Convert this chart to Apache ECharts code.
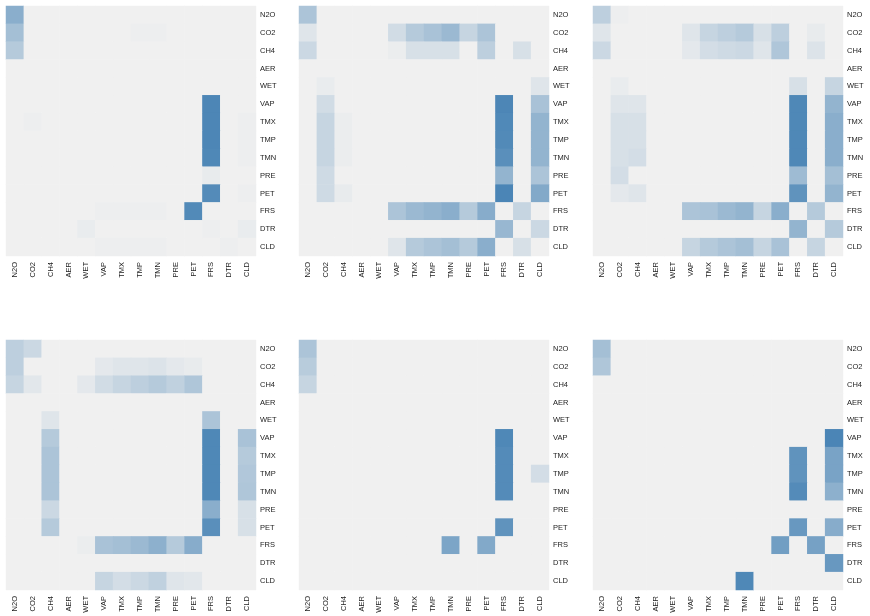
<!DOCTYPE html>
<html>
<head>
<meta charset="utf-8">
<script src="https://cdn.jsdelivr.net/npm/echarts@6/dist/echarts.min.js"></script>
<style>
  html, body { margin: 0; padding: 0; background: #fff; }
  #chart { width: 870px; height: 616px; }
</style>
</head>
<body>
<div id="chart"></div>
<script>
// variables, same order on both axes (y top to bottom)
const cats = ['N2O', 'CO2', 'CH4', 'AER', 'WET', 'VAP', 'TMX', 'TMP', 'TMN', 'PRE', 'PET', 'FRS', 'DTR', 'CLD'];

// non-zero cells per panel: [row, column, value]; all other cells are 0
const panel1 = [
  ['N2O', 'N2O', 0.6], ['CO2', 'N2O', 0.45], ['CH4', 'N2O', 0.35],
  ['CO2', 'TMP', 0.02], ['CO2', 'TMN', 0.02],
  ['VAP', 'FRS', 0.96],
  ['TMX', 'CO2', 0.02], ['TMX', 'FRS', 0.96], ['TMX', 'CLD', 0.02],
  ['TMP', 'FRS', 0.96], ['TMP', 'CLD', 0.02],
  ['TMN', 'FRS', 0.95], ['TMN', 'CLD', 0.02],
  ['PRE', 'FRS', 0.05],
  ['PET', 'FRS', 0.92], ['PET', 'CLD', 0.02],
  ['FRS', 'PET', 0.93], ['FRS', 'VAP', 0.02], ['FRS', 'TMX', 0.02], ['FRS', 'TMP', 0.02], ['FRS', 'TMN', 0.02],
  ['DTR', 'WET', 0.04], ['DTR', 'FRS', 0.02], ['DTR', 'CLD', 0.04],
  ['CLD', 'VAP', 0.02], ['CLD', 'TMX', 0.02], ['CLD', 'TMP', 0.02], ['CLD', 'TMN', 0.02], ['CLD', 'DTR', 0.02]
];
const panel2 = [
  ['N2O', 'N2O', 0.4],
  ['CO2', 'N2O', 0.1], ['CO2', 'VAP', 0.18], ['CO2', 'TMX', 0.35], ['CO2', 'TMP', 0.42], ['CO2', 'TMN', 0.5], ['CO2', 'PRE', 0.25], ['CO2', 'PET', 0.4],
  ['CH4', 'N2O', 0.22], ['CH4', 'VAP', 0.03], ['CH4', 'TMX', 0.15], ['CH4', 'TMP', 0.15], ['CH4', 'TMN', 0.15], ['CH4', 'PET', 0.3], ['CH4', 'DTR', 0.15],
  ['WET', 'CO2', 0.04], ['WET', 'CLD', 0.1],
  ['VAP', 'CO2', 0.18], ['VAP', 'FRS', 0.96], ['VAP', 'CLD', 0.42],
  ['TMX', 'CO2', 0.25], ['TMX', 'CH4', 0.03], ['TMX', 'FRS', 0.94], ['TMX', 'CLD', 0.55],
  ['TMP', 'CO2', 0.25], ['TMP', 'CH4', 0.03], ['TMP', 'FRS', 0.93], ['TMP', 'CLD', 0.55],
  ['TMN', 'CO2', 0.25], ['TMN', 'CH4', 0.03], ['TMN', 'FRS', 0.88], ['TMN', 'CLD', 0.55],
  ['PRE', 'CO2', 0.2], ['PRE', 'FRS', 0.55], ['PRE', 'CLD', 0.4],
  ['PET', 'CO2', 0.2], ['PET', 'CH4', 0.05], ['PET', 'FRS', 0.97], ['PET', 'CLD', 0.65],
  ['FRS', 'VAP', 0.4], ['FRS', 'TMX', 0.5], ['FRS', 'TMP', 0.55], ['FRS', 'TMN', 0.6], ['FRS', 'PRE', 0.35], ['FRS', 'PET', 0.62], ['FRS', 'DTR', 0.25],
  ['DTR', 'FRS', 0.52], ['DTR', 'CLD', 0.22],
  ['CLD', 'VAP', 0.1], ['CLD', 'TMX', 0.35], ['CLD', 'TMP', 0.4], ['CLD', 'TMN', 0.45], ['CLD', 'PRE', 0.35], ['CLD', 'PET', 0.6], ['CLD', 'DTR', 0.15]
];
const panel3 = [
  ['N2O', 'N2O', 0.3], ['N2O', 'CO2', 0.02],
  ['CO2', 'N2O', 0.1], ['CO2', 'VAP', 0.1], ['CO2', 'TMX', 0.25], ['CO2', 'TMP', 0.3], ['CO2', 'TMN', 0.35], ['CO2', 'PRE', 0.15], ['CO2', 'PET', 0.3], ['CO2', 'DTR', 0.05],
  ['CH4', 'N2O', 0.22], ['CH4', 'VAP', 0.07], ['CH4', 'TMX', 0.17], ['CH4', 'TMP', 0.2], ['CH4', 'TMN', 0.22], ['CH4', 'PRE', 0.1], ['CH4', 'PET', 0.38], ['CH4', 'DTR', 0.12],
  ['WET', 'CO2', 0.04], ['WET', 'FRS', 0.15], ['WET', 'CLD', 0.25],
  ['VAP', 'CO2', 0.1], ['VAP', 'CH4', 0.1], ['VAP', 'FRS', 0.95], ['VAP', 'CLD', 0.55],
  ['TMX', 'CO2', 0.15], ['TMX', 'CH4', 0.15], ['TMX', 'FRS', 0.95], ['TMX', 'CLD', 0.6],
  ['TMP', 'CO2', 0.15], ['TMP', 'CH4', 0.15], ['TMP', 'FRS', 0.95], ['TMP', 'CLD', 0.6],
  ['TMN', 'CO2', 0.15], ['TMN', 'CH4', 0.17], ['TMN', 'FRS', 0.95], ['TMN', 'CLD', 0.6],
  ['PRE', 'CO2', 0.17], ['PRE', 'FRS', 0.48], ['PRE', 'CLD', 0.45],
  ['PET', 'CO2', 0.07], ['PET', 'CH4', 0.1], ['PET', 'FRS', 0.85], ['PET', 'CLD', 0.55],
  ['FRS', 'VAP', 0.4], ['FRS', 'TMX', 0.42], ['FRS', 'TMP', 0.5], ['FRS', 'TMN', 0.55], ['FRS', 'PRE', 0.25], ['FRS', 'PET', 0.6], ['FRS', 'DTR', 0.35],
  ['DTR', 'FRS', 0.55], ['DTR', 'CLD', 0.35],
  ['CLD', 'VAP', 0.25], ['CLD', 'TMX', 0.35], ['CLD', 'TMP', 0.4], ['CLD', 'TMN', 0.45], ['CLD', 'PRE', 0.25], ['CLD', 'PET', 0.42], ['CLD', 'DTR', 0.25]
];
const panel4 = [
  ['N2O', 'N2O', 0.3], ['N2O', 'CO2', 0.22],
  ['CO2', 'N2O', 0.3], ['CO2', 'VAP', 0.07], ['CO2', 'TMX', 0.1], ['CO2', 'TMP', 0.1], ['CO2', 'TMN', 0.12], ['CO2', 'PRE', 0.07], ['CO2', 'PET', 0.05],
  ['CH4', 'N2O', 0.25], ['CH4', 'CO2', 0.08], ['CH4', 'WET', 0.07], ['CH4', 'VAP', 0.18], ['CH4', 'TMX', 0.25], ['CH4', 'TMP', 0.3], ['CH4', 'TMN', 0.35], ['CH4', 'PRE', 0.28], ['CH4', 'PET', 0.38],
  ['WET', 'CH4', 0.1], ['WET', 'FRS', 0.4],
  ['VAP', 'CH4', 0.35], ['VAP', 'FRS', 0.95], ['VAP', 'CLD', 0.42],
  ['TMX', 'CH4', 0.4], ['TMX', 'FRS', 0.95], ['TMX', 'CLD', 0.35],
  ['TMP', 'CH4', 0.4], ['TMP', 'FRS', 0.95], ['TMP', 'CLD', 0.37],
  ['TMN', 'CH4', 0.4], ['TMN', 'FRS', 0.95], ['TMN', 'CLD', 0.38],
  ['PRE', 'CH4', 0.22], ['PRE', 'FRS', 0.6], ['PRE', 'CLD', 0.15],
  ['PET', 'CH4', 0.35], ['PET', 'FRS', 0.88], ['PET', 'CLD', 0.15],
  ['FRS', 'WET', 0.03], ['FRS', 'VAP', 0.42], ['FRS', 'TMX', 0.45], ['FRS', 'TMP', 0.5], ['FRS', 'TMN', 0.58], ['FRS', 'PRE', 0.35], ['FRS', 'PET', 0.62],
  ['CLD', 'VAP', 0.25], ['CLD', 'TMX', 0.17], ['CLD', 'TMP', 0.22], ['CLD', 'TMN', 0.28], ['CLD', 'PRE', 0.1], ['CLD', 'PET', 0.08]
];
const panel5 = [
  ['N2O', 'N2O', 0.4], ['CO2', 'N2O', 0.33], ['CH4', 'N2O', 0.25],
  ['VAP', 'FRS', 0.95], ['TMX', 'FRS', 0.92], ['TMP', 'FRS', 0.92], ['TMP', 'CLD', 0.17], ['TMN', 'FRS', 0.92],
  ['PET', 'FRS', 0.85],
  ['FRS', 'TMN', 0.68], ['FRS', 'PET', 0.65]
];
const panel6 = [
  ['N2O', 'N2O', 0.45], ['CO2', 'N2O', 0.38],
  ['VAP', 'CLD', 0.97],
  ['TMX', 'FRS', 0.85], ['TMX', 'CLD', 0.7],
  ['TMP', 'FRS', 0.85], ['TMP', 'CLD', 0.7],
  ['TMN', 'FRS', 0.92], ['TMN', 'CLD', 0.58],
  ['PET', 'FRS', 0.8], ['PET', 'CLD', 0.62],
  ['FRS', 'PET', 0.75], ['FRS', 'DTR', 0.72],
  ['DTR', 'CLD', 0.8],
  ['CLD', 'TMN', 0.95]
];

const panels = [panel1, panel2, panel3, panel4, panel5, panel6];

// fill the full 14x14 matrix
function buildCells(cells) {
  const lookup = {};
  cells.forEach(([r, c, v]) => { lookup[r + '|' + c] = v; });
  const out = [];
  cats.forEach((r, ri) => {
    cats.forEach((c, ci) => {
      out.push([ci, ri, lookup[r + '|' + c] || 0]);
    });
  });
  return out;
}

const lefts = [6, 299, 593];
const tops = [6, 340];
const labelStyle = { fontSize: 7.5, color: '#222', fontFamily: 'Liberation Sans, Arial, sans-serif' };

const grid = [], xAxis = [], yAxis = [], series = [];
panels.forEach((p, i) => {
  grid.push({ left: lefts[i % 3], top: tops[Math.floor(i / 3)], width: 250, height: 250 });
  xAxis.push({
    type: 'category', data: cats, gridIndex: i,
    axisLine: { show: false }, axisTick: { show: false }, splitLine: { show: false },
    axisLabel: Object.assign({ rotate: 90, interval: 0, margin: 6 }, labelStyle)
  });
  yAxis.push({
    type: 'category', data: cats, gridIndex: i, inverse: true, position: 'right',
    axisLine: { show: false }, axisTick: { show: false }, splitLine: { show: false },
    axisLabel: Object.assign({ interval: 0, margin: 4 }, labelStyle)
  });
  series.push({
    type: 'heatmap', xAxisIndex: i, yAxisIndex: i,
    data: buildCells(p),
    emphasis: { disabled: true },
    itemStyle: { borderWidth: 0 }
  });
});

const myChart = echarts.init(document.getElementById('chart'));
myChart.setOption({
  animation: false,
  grid,
  xAxis,
  yAxis,
  visualMap: {
    show: false, type: 'continuous', min: 0, max: 1,
    seriesIndex: [0, 1, 2, 3, 4, 5],
    inRange: { color: ['#f0f0f0', '#4682b4'] }
  },
  series
});
</script>
</body>
</html>
